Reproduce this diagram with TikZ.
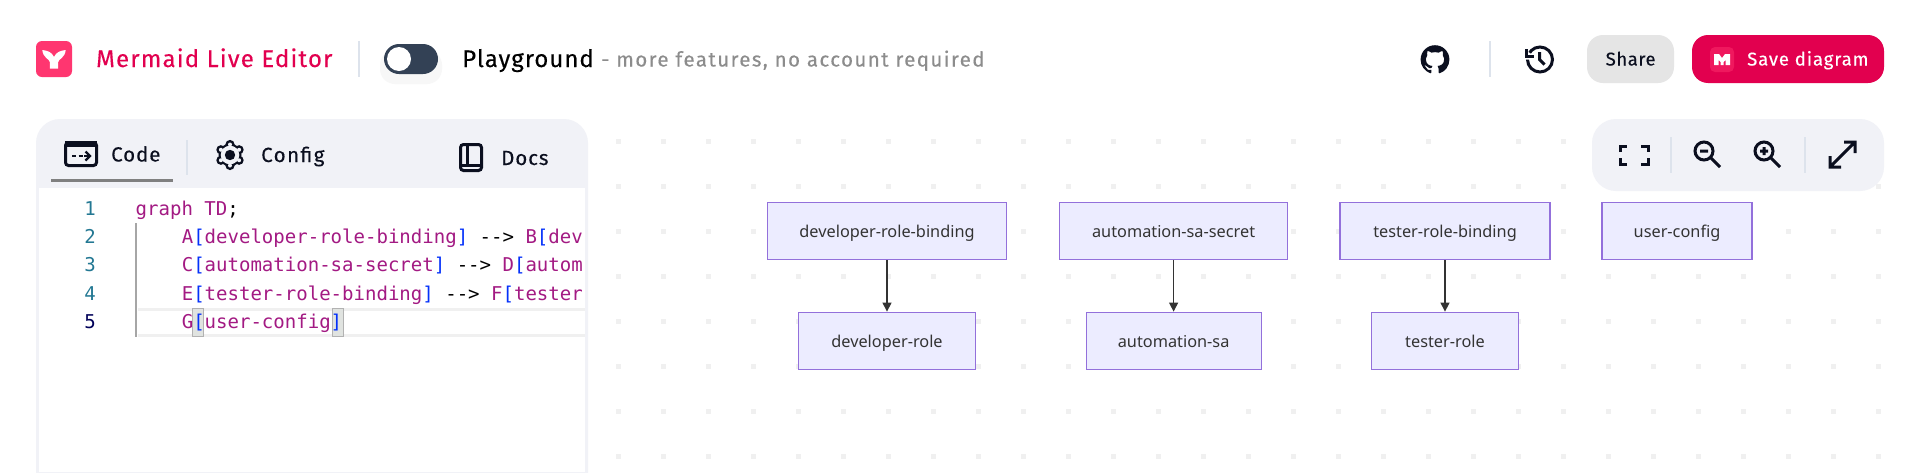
\documentclass[tikz,border=0pt]{standalone}
\usepackage{xcolor}
\usepackage{fontspec}
\setmainfont{Fira Sans}[FakeBold=0.25]
\setmonofont{DejaVu Sans Mono}
\newfontfamily\flowfont{Noto Sans}
\usetikzlibrary{positioning,arrows.meta,svg.path}

\definecolor{brandred}{HTML}{E2004F}
\definecolor{logopink}{HTML}{FF3670}
\definecolor{inkdark}{HTML}{0B0F1F}
\definecolor{slatefill}{HTML}{334155}
\definecolor{panelgrey}{HTML}{F1F2F7}
\definecolor{rulegrey}{HTML}{DDE3EC}
\definecolor{codeword}{HTML}{A31A83}
\definecolor{codebrace}{HTML}{0431FA}
\definecolor{linenum}{HTML}{237893}
\definecolor{flowfill}{HTML}{ECECFF}
\definecolor{flowline}{HTML}{9370DB}

\newcommand{\cw}[1]{\textcolor{codeword}{#1}}
\newcommand{\cb}[1]{\textcolor{codebrace}{#1}}
\newcommand{\spaced}[2]{\fontsize{#1}{28}\selectfont\addfontfeature{LetterSpace=#2}}

\begin{document}
\begin{tikzpicture}[
    x=1pt, y=-1pt,
    flownode/.style={draw=flowline, fill=flowfill, line width=1.2pt, minimum height=57pt, inner sep=0pt, text height=17.5pt, text depth=4pt, text=black!80, font=\flowfont\fontsize{16.3}{18}\selectfont},
    flowedge/.style={draw=black!80, line width=1.2pt, -{Triangle[length=9pt,width=9pt]}},
    uilabel/.style={anchor=base west, inner sep=0pt, text=inkdark},
    codeline/.style={anchor=base west, inner sep=0pt, font=\ttfamily\fontsize{19.03}{22}\selectfont},
    numlabel/.style={anchor=base, inner sep=0pt, text=linenum, font=\ttfamily\fontsize{19.03}{22}\selectfont},
    divider/.style={draw=rulegrey, line width=2pt},
    iconline/.style={draw=inkdark, line width=3pt}
]
\clip (0,0) rectangle (1920,472);
\fill[white] (0,0) rectangle (1920,472);

% dotted canvas
\foreach \i in {0,...,28} {
    \foreach \j in {0,...,7} {
        \fill[black!6] ({618+45*\i-2.5},{141+45*\j-2.5}) rectangle +(5,5);
    }
}

% top bar
\fill[logopink, rounded corners=6pt] (36,41) rectangle (72,77);
\fill[white] (42.3,50) .. controls (47,50.5) and (52,52) .. (54,57) .. controls (56,52) and (61,50.5) .. (65.7,50)
    .. controls (65,58) and (58.5,59) .. (58.2,62) -- (58.2,68.5) -- (49.8,68.5) -- (49.8,62)
    .. controls (49.5,59) and (43,58) .. (42.3,50) -- cycle;
\node[uilabel, text=brandred, font=\spaced{24}{5}] (title) at (96,67) {Mermaid Live Editor};
\draw[divider] (359,41) -- (359,77);
\fill[black!3, rounded corners=15pt] (380,50) rectangle (442,84);
\fill[slatefill, rounded corners=15pt] (384,44) rectangle (438,74);
\fill[white] (399,59) circle[radius=12];
\node[uilabel, text=black, font=\spaced{24}{4.2}] (playground) at (462,67) {Playground};
\node[uilabel, text=black!45, font=\spaced{20.5}{6.9}] (tagline) at (601,66.5) {- more features, no account required};

% github, history
\begin{scope}[shift={(1420.6,45.2)}, xscale=1.8, yscale=-1.8]
\fill[inkdark] svg "M 8 0 C 3.58 0 0 3.58 0 8 c 0 3.54 2.29 6.53 5.47 7.59 0.4 0.07 0.55 -0.17 0.55 -0.38 0 -0.19 -0.01 -0.82 -0.01 -1.49 -2.01 0.37 -2.53 -0.49 -2.69 -0.94 -0.09 -0.23 -0.48 -0.94 -0.82 -1.13 -0.28 -0.15 -0.68 -0.52 -0.01 -0.53 0.63 -0.01 1.08 0.58 1.23 0.82 0.72 1.21 1.87 0.87 2.33 0.66 0.07 -0.52 0.28 -0.87 0.51 -1.07 -1.78 -0.2 -3.64 -0.89 -3.64 -3.95 0 -0.87 0.31 -1.59 0.82 -2.15 -0.08 -0.2 -0.36 -1.02 0.08 -2.12 0 0 0.67 -0.21 2.2 0.82 0.64 -0.18 1.32 -0.27 2 -0.27 0.68 0 1.36 0.09 2 0.27 1.53 -1.04 2.2 -0.82 2.2 -0.82 0.44 1.1 0.16 1.92 0.08 2.12 0.51 0.56 0.82 1.27 0.82 2.15 0 3.07 -1.87 3.75 -3.65 3.95 0.29 0.25 0.54 0.73 0.54 1.48 0 1.07 -0.01 1.93 -0.01 2.2 0 0.21 0.15 0.46 0.55 0.38 C 13.71 14.53 16 11.54 16 8 c 0 -4.42 -3.58 -8 -8 -8 z";
\end{scope}
\draw[divider] (1490,41) -- (1490,77);
\draw[iconline] (1540,59.5) circle[radius=12.5];
\fill[white] (1540,59.5) -- (1522,59.5) -- (1522,48) -- cycle;
\draw[iconline] (1526.5,49) -- (1526.5,56) -- (1534,56);
\draw[iconline] (1539.5,52) -- (1539.5,59.5) -- (1544.5,64.5);

% buttons
\fill[black!10, rounded corners=16pt] (1587,35) rectangle (1674,83);
\node[uilabel, font=\spaced{18.5}{3}] (share) at (1605.5,65.5) {Share};
\fill[brandred, rounded corners=16pt] (1692,35) rectangle (1884,83);
\fill[logopink!45!brandred, rounded corners=5pt] (1710,47) rectangle (1734,72);
\fill[white] (1714,54) -- (1719,54) -- (1722,58) -- (1725,54) -- (1730,54) -- (1730,65) -- (1725.5,65) -- (1725.5,60)
    -- (1723.5,62) -- (1723.5,65) -- (1720.5,65) -- (1720.5,62) -- (1718.5,60) -- (1718.5,65) -- (1714,65) -- cycle;
\node[uilabel, text=white, font=\spaced{18.5}{5}] (savelabel) at (1747,65.5) {Save diagram};

% editor panel
\fill[panelgrey, rounded corners=24pt] (36,119) rectangle (588,520);
\fill[white] (39,188) rectangle (585,472);
\fill[black!50] (51,179) rectangle (173,182);
\draw[divider] (187,140) -- (187,175);

\draw[iconline, rounded corners=3pt] (65.5,142.5) rectangle (96.5,165.5);
\fill[inkdark] (65,141) rectangle (97,147);
\draw[inkdark, line width=2.4pt] (72,156) -- (76,156) (78.5,156) -- (82.5,156) (84,156) -- (89,156);
\draw[inkdark, line width=2.4pt] (85.5,151.5) -- (90,156) -- (85.5,160.5);
\node[uilabel, font=\spaced{20.5}{4.5}] (codetab) at (111,161.5) {Code};

\foreach \a in {30,90,...,330} {
    \fill[inkdark] (230,155) ++(\a:10.5) circle[radius=4.6];
}
\fill[inkdark] (230,155) circle[radius=11.5];
\foreach \a in {30,90,...,330} {
    \fill[panelgrey] (230,155) ++(\a:10.5) circle[radius=2];
}
\fill[panelgrey] (230,155) circle[radius=9.3];
\fill[inkdark] (230,155) circle[radius=5.2];
\node[uilabel, font=\spaced{20.5}{7}] (configtab) at (261,162) {Con{f}ig};

\draw[iconline, rounded corners=3pt] (460.5,144.5) rectangle (481.5,170.5);
\draw[iconline] (467,145) -- (467,164);
\draw[iconline] (461,165) -- (481,165);
\node[uilabel, font=\spaced{20.5}{4.5}] (docstab) at (501,165) {Docs};

% code lines
\fill[black!6] (137.5,308.3) rectangle (585,336.7);
\fill[white] (137.5,311) rectangle (585,334);
\filldraw[fill=green!10!black!12, draw=black!30, line width=1pt] (192.5,308.5) rectangle (203.5,336.5);
\filldraw[fill=green!10!black!12, draw=black!30, line width=1pt] (332.5,308.5) rectangle (343.5,336.5);
\draw[black!35, line width=1.6pt] (136,223) -- (136,336.7);

\node[numlabel] (num1) at (90,215) {1};
\node[numlabel] (num2) at (90,243.4) {2};
\node[numlabel] (num3) at (90,271.8) {3};
\node[numlabel] (num4) at (90,300.2) {4};
\node[numlabel, text=blue!35!black] (num5) at (90,328.6) {5};
\node[codeline] (line1) at (135.5,215) {\cw{graph TD};};
\node[codeline] (line2) at (181.6,243.4) {\cw{A}\cb{[}\cw{developer-role-binding}\cb{]} {-}{-}> \cw{B}\cb{[}\cw{dev}};
\node[codeline] (line3) at (181.6,271.8) {\cw{C}\cb{[}\cw{automation-sa-secret}\cb{]} {-}{-}> \cw{D}\cb{[}\cw{autom}};
\node[codeline] (line4) at (181.6,300.2) {\cw{E}\cb{[}\cw{tester-role-binding}\cb{]} {-}{-}> \cw{F}\cb{[}\cw{tester}};
\node[codeline] (line5) at (181.6,328.6) {\cw{G}\cb{[}\cw{user-config}\cb{]}};

% flowchart
\node[flownode, minimum width=239pt] (devbinding) at (887,231) {developer-role-binding};
\node[flownode, minimum width=177pt, below=51.5pt of devbinding] (devrole) {developer-role};
\node[flownode, minimum width=228pt] (autosecret) at (1173.6,231) {automation-sa-secret};
\node[flownode, minimum width=175pt, below=51.5pt of autosecret] (autosa) {automation-sa};
\node[flownode, minimum width=210pt] (testbinding) at (1445,231) {tester-role-binding};
\node[flownode, minimum width=147pt, below=51.5pt of testbinding] (testrole) {tester-role};
\node[flownode, minimum width=150pt] (userconfig) at (1677,231) {user-config};
\draw[flowedge] (devbinding) -- (devrole);
\draw[flowedge] (autosecret) -- (autosa);
\draw[flowedge] (testbinding) -- (testrole);

% view controls
\fill[panelgrey, rounded corners=24pt] (1592,119) rectangle (1884,191);
\draw[divider] (1671,137) -- (1671,173);
\draw[divider] (1805,137) -- (1805,173);
\draw[iconline] (1620,152) -- (1620,146.5) -- (1627,146.5) (1641,146.5) -- (1648,146.5) -- (1648,152)
    (1648,158) -- (1648,164) -- (1641,164) (1627,164) -- (1620,164) -- (1620,158);
\draw[iconline] (1704,151) circle[radius=9];
\draw[iconline] (1711,158) -- (1720,167) (1700,151) -- (1708,151);
\draw[iconline] (1764,151) circle[radius=9];
\draw[iconline] (1771,158) -- (1780,167) (1760,151) -- (1768,151) (1764,147) -- (1764,155);
\draw[iconline] (1830,167) -- (1855,142) (1844,142) -- (1855,142) -- (1855,153) (1830,156) -- (1830,167) -- (1841,167);
\end{tikzpicture}
\end{document}
